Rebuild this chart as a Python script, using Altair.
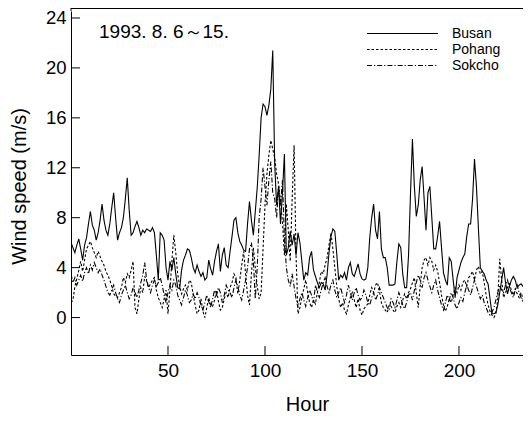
import altair as alt
import pandas as pd

stations = ["Busan", "Pohang", "Sokcho"]

busan = [
    6.0, 5.6, 5.2, 5.8, 6.3, 5.5, 4.6, 5.8, 6.4, 7.5,
    8.5, 7.4, 7.0, 6.2, 6.8, 7.8, 9.1, 7.8, 7.0, 6.6,
    7.5, 8.8, 10.0, 8.0, 6.2, 6.8, 7.2, 8.0, 9.5, 11.2,
    8.6, 6.6, 6.8, 7.3, 7.7, 7.2, 6.6, 7.0, 6.8, 7.1,
    7.0, 6.9, 7.2, 6.8, 5.0, 3.0, 6.8, 6.6, 6.2, 4.0,
    3.0, 4.5, 3.8, 4.8, 3.5, 2.4, 2.3, 3.8, 4.6, 5.0,
    5.5, 5.4, 4.8, 4.0, 3.6, 4.2, 3.7, 3.3, 3.6,
    3.0, 3.2, 4.6, 3.9, 3.4, 4.5, 5.3, 5.9, 3.7, 5.0,
    5.6, 4.2, 4.0, 5.3, 6.5, 7.8, 8.0, 6.8, 6.1, 5.8,
    5.4, 5.3, 7.5, 9.3, 7.8, 6.6, 8.5, 10.4, 13.0, 16.0,
    17.1, 16.9, 16.2, 17.0, 18.3, 21.4, 12.3, 9.0, 10.5, 7.5,
    10.0, 13.1, 5.0, 5.6, 6.9, 5.8, 6.7, 5.0, 6.8, 6.0,
    4.5, 3.0, 3.6, 3.4, 4.8, 5.3, 3.8, 3.3, 2.8,
    2.4, 2.8, 2.7, 2.2, 3.4, 5.2, 6.5, 7.1, 6.9, 5.1,
    3.0, 3.4, 3.2, 3.6, 3.0, 4.0, 4.4, 3.5, 3.3, 3.8,
    4.3, 3.5, 3.1, 3.0, 3.1, 4.0, 6.4, 8.0, 9.1, 7.0,
    6.3, 8.5, 5.5, 4.8, 4.8, 4.0, 2.6, 2.6, 2.6,
    2.7, 4.5, 5.9, 5.6, 3.5, 2.4, 2.4, 5.0, 9.9, 14.3,
    10.5, 8.1, 9.0, 11.0, 12.1, 9.6, 7.0, 10.0, 10.5, 8.0,
    5.5, 5.5, 6.5, 7.7, 5.6, 3.6, 3.0, 2.6, 4.8, 4.5,
    3.0, 1.6, 3.2, 3.8, 4.4, 4.8, 5.1, 6.5, 7.5, 7.5,
    9.5, 12.7, 10.5, 7.2, 4.0, 3.7, 3.5, 3.0, 2.7, 1.5,
    0.3, 0.3, 0.4, 1.0, 2.0, 3.0, 4.0, 2.8, 1.9, 2.5,
    3.0, 3.3, 3.0, 2.4, 2.6, 2.7, 2.5, 2.3, 2.6, 2.2, 2.0,
]

pohang = [
    1.2, 1.4, 2.5, 3.1, 3.8, 4.5, 3.7, 4.6, 5.5, 5.8,
    6.1, 5.6, 5.2, 4.8, 5.3, 4.9, 4.5, 4.2, 3.7, 3.4,
    3.0, 2.5, 1.9, 1.7, 1.6, 2.0, 2.4, 3.2, 2.8, 3.5,
    3.2, 3.8, 4.5, 0.8, 0.3, 1.5, 2.4, 2.0, 3.3, 2.9,
    2.4, 2.7, 3.0, 3.2, 2.2, 1.6, 1.2, 0.8, 1.5, 2.2,
    0.3, 2.2, 4.5, 6.6, 5.2, 3.5, 2.5, 1.9, 2.3, 2.6,
    2.2, 3.0, 2.8, 1.8, 1.0, 0.3, 0.6, 1.5, 0.5,
    0.0, 0.8, 1.6, 1.0, 0.9, 1.4, 2.2, 1.3, 0.6, 0.8,
    1.5, 2.0, 1.6, 2.4, 2.8, 3.5, 3.2, 1.9, 3.0, 4.2,
    5.3, 3.5, 1.8, 1.0, 3.5, 5.6, 4.0, 2.5, 1.5, 2.0,
    5.5, 9.0, 11.5, 13.0, 14.2, 13.5, 12.8, 11.5, 10.7, 9.3,
    7.7, 5.0, 9.1, 7.0, 4.5, 9.5, 13.8, 5.0, 0.3, 0.8,
    1.6, 2.3, 3.0, 2.0, 1.2, 0.8, 1.4, 1.1, 2.0,
    2.8, 3.7, 3.5, 4.2, 4.8, 5.8, 6.8, 5.5, 4.0, 2.5,
    1.5, 0.8, 1.2, 0.6, 0.3, 1.0, 1.6, 2.0, 1.4, 0.8,
    1.5, 0.6, 0.2, 0.7, 0.9, 1.1, 1.8, 2.4, 2.0, 2.6,
    2.8, 2.1, 1.2, 0.8, 0.6, 0.4, 1.0, 0.9, 0.6,
    0.4, 0.9, 1.2, 0.8, 1.4, 1.9, 1.5, 2.0, 2.3, 2.8,
    3.2, 2.0, 0.8, 2.5, 4.0, 4.6, 4.8, 4.2, 4.8, 4.5,
    3.8, 4.2, 3.7, 2.8, 1.8, 1.0, 0.5, 0.9, 1.5, 1.2,
    1.8, 2.4, 2.0, 2.6, 2.2, 2.8, 3.0, 2.5, 3.2, 3.4,
    3.7, 3.0, 3.8, 4.1, 3.5, 3.7, 2.8, 1.8, 1.0, 0.5,
    0.2, 0.0, 0.3, 1.5, 4.7, 3.0, 1.6, 2.0, 2.4, 2.7,
    2.2, 1.8, 2.3, 1.9, 1.6, 2.0, 1.5, 1.8, 2.4, 3.0, 2.6,
]

sokcho = [
    3.5, 2.8, 3.2, 2.6, 3.0, 3.4, 2.9, 3.6, 4.0, 3.5,
    4.2, 3.8, 4.4, 4.0, 3.6, 3.9, 3.4, 3.0, 2.5, 2.0,
    1.8, 2.2, 2.6, 2.0, 1.5, 1.2, 1.8, 2.2, 2.6, 2.0,
    1.5, 1.8, 2.4, 2.0, 1.6, 2.2, 2.8, 3.4, 4.4, 3.0,
    2.4, 2.0, 2.6, 3.0, 2.5, 2.8, 3.2, 2.6, 1.8, 1.2,
    2.0, 2.6, 2.2, 3.0, 2.6, 1.8, 1.4, 1.0, 1.6, 2.2,
    1.8, 1.2, 1.4, 1.9, 1.5, 2.0, 1.6, 1.0, 0.6,
    1.2, 1.8, 1.3, 0.8, 1.5, 2.2, 1.8, 2.4, 2.0, 1.2,
    1.8, 2.6, 2.2, 2.0, 1.6, 2.4, 3.0, 2.5, 1.8, 1.4,
    2.2, 3.0, 4.0, 5.5, 6.0, 4.5, 1.5, 4.0, 8.0, 9.5,
    12.0, 10.5, 9.0, 11.0, 12.5, 10.0, 9.5, 8.0, 10.5, 9.0,
    11.0, 6.5, 4.0, 3.0, 2.5, 3.5, 2.5, 1.5, 0.8, 1.5,
    2.0, 1.4, 0.9, 1.6, 2.2, 1.8, 1.2, 2.6, 2.0,
    1.6, 2.2, 2.8, 3.2, 2.5, 2.0, 2.6, 3.0, 2.2, 1.6,
    2.0, 2.4, 1.8, 1.2, 1.8, 2.6, 2.0, 1.4, 2.0, 2.4,
    1.8, 1.4, 1.6, 2.2, 1.8, 1.2, 1.0, 1.6, 2.0, 1.4,
    1.8, 2.4, 2.0, 1.6, 1.2, 0.8, 0.6, 1.5, 1.2,
    0.8, 1.4, 2.0, 1.6, 1.0, 0.7, 1.2, 1.8, 2.0, 1.4,
    2.2, 2.8, 3.4, 3.0, 2.4, 3.2, 3.6, 3.0, 2.5, 2.0,
    2.6, 3.0, 2.2, 1.6, 1.0, 0.6, 1.2, 1.8, 1.4, 2.0,
    1.6, 1.0, 0.7, 1.2, 1.6, 1.3, 2.0, 2.6, 2.2, 1.8,
    2.4, 3.0, 2.5, 2.0, 1.5, 1.8, 1.2, 0.8, 0.4, 0.2,
    0.4, 0.8, 1.4, 2.0, 2.6, 2.2, 2.0, 2.6, 3.0, 2.4,
    2.0, 1.6, 2.2, 2.6, 2.0, 1.6, 1.2, 0.9, 0.6, 0.4, 0.5,
]

hours = list(range(len(busan)))

y_ticks = [0, 4, 8, 12, 16, 20, 24]
x_ticks = [50, 100, 150, 200]
period_label = "1993. 8. 6～15."
x_title = "Hour"
y_title = "Wind speed (m/s)"
x_domain = [0, 233]
y_domain = [-3.0, 24.56]

rows = []
for name, vals in zip(stations, [busan, pohang, sokcho]):
    for h, v in zip(hours, vals):
        rows.append({"hour": h, "speed": v, "station": name})
df = pd.DataFrame(rows)

FONT = "Liberation Sans"
W, H = 452, 344
DASHES = {"Busan": [1, 0], "Pohang": [2.5, 2], "Sokcho": [5, 2, 1.2, 2]}

xscale = alt.Scale(domain=x_domain, nice=False, zero=False)
yscale = alt.Scale(domain=y_domain, nice=False, zero=False)
dash_scale = alt.Scale(domain=stations, range=[DASHES[s] for s in stations])

x_axis = alt.Axis(values=x_ticks, title=x_title, titleX=236, titleY=55,
                  titleBaseline="alphabetic", titleAlign="center", labelPadding=6,
                  labelFontSize=19)
y_axis = alt.Axis(values=y_ticks, title=y_title, titleX=-52, titleY=175,
                  titleAngle=270, titleBaseline="middle", titleAlign="center",
                  labelPadding=5, labelFontSize=18.5)

lines = alt.Chart(df).mark_line(color="black", strokeWidth=1.1, clip=True).encode(
    x=alt.X("hour:Q", scale=xscale, axis=x_axis),
    y=alt.Y("speed:Q", scale=yscale, axis=y_axis),
    strokeDash=alt.StrokeDash("station:N", scale=dash_scale, legend=None),
)

yticks = alt.Chart(pd.DataFrame({"speed": y_ticks})).mark_rule(color="black").encode(
    y=alt.Y("speed:Q", scale=yscale, axis=y_axis), x=alt.value(0), x2=alt.value(9))
xticks = alt.Chart(pd.DataFrame({"hour": x_ticks})).mark_rule(color="black").encode(
    x=alt.X("hour:Q", scale=xscale, axis=x_axis), y=alt.value(H), y2=alt.value(H - 9))
top_border = alt.Chart(pd.DataFrame({"t": [0]})).mark_rule(color="black").encode(
    y=alt.value(-2.5), x=alt.value(0), x2=alt.value(W))
top_left = alt.Chart(pd.DataFrame({"t": [0]})).mark_rule(color="black").encode(
    x=alt.value(0), y=alt.value(-3), y2=alt.value(0))

note = alt.Chart(pd.DataFrame({"label": [period_label]})).mark_text(
    align="left", baseline="alphabetic", font=FONT, fontSize=19, color="black"
).encode(text="label:N", x=alt.value(28), y=alt.value(26.5))

legend_layers = []
for i, s in enumerate(stations):
    row_y = 22.5 + 16 * i
    d = pd.DataFrame({"station": [s]})
    legend_layers.append(
        alt.Chart(d).mark_rule(color="black", strokeWidth=1.1, strokeDash=DASHES[s]).encode(
            y=alt.value(row_y), x=alt.value(296), x2=alt.value(367)))
    legend_layers.append(
        alt.Chart(d).mark_text(align="left", baseline="middle", font=FONT,
                               fontSize=14, color="black").encode(
            text="station:N", x=alt.value(381), y=alt.value(row_y)))

chart = alt.layer(lines, yticks, xticks, top_border, top_left, note,
                  *legend_layers).properties(
    width=W, height=H,
    autosize=alt.AutoSizeParams(type="none"),
    padding={"left": 63, "top": 3, "right": 0, "bottom": 60},
    background="white",
).configure_view(stroke=None).configure_axis(
    ticks=False, tickSize=0, grid=False,
    labelFont=FONT, labelColor="black",
    domainColor="black", domainWidth=1,
    titleFont=FONT, titleFontSize=20, titleFontWeight="normal", titleColor="black",
)

chart.save("out.html", embed_options={"renderer": "svg", "actions": False})
